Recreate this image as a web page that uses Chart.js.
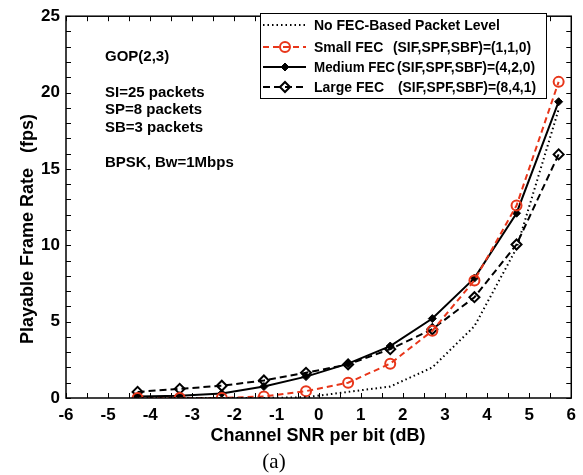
<!DOCTYPE html>
<html>
<head>
<meta charset="utf-8">
<script src="https://cdn.jsdelivr.net/npm/chart.js@4"></script>
<style>
  html, body { margin: 0; padding: 0; background: #fff; }
  canvas { display: block; }
</style>
</head>
<body>
<canvas id="fpsChart" width="583" height="475"></canvas>
<script>
// --- data ---
const snrDb = [-4.3, -3.3, -2.3, -1.3, -0.3, 0.7, 1.7, 2.7, 3.7, 4.7, 5.7];
const noFec = [0, 0, 0, 0, 0.05, 0.4, 0.75, 2.0, 4.7, 9.8, 18.9];
const smallFec = [0, 0, 0, 0.1, 0.45, 1.0, 2.25, 4.4, 7.7, 12.6, 20.7];
const mediumFec = [0.1, 0.15, 0.3, 0.75, 1.4, 2.25, 3.4, 5.2, 7.85, 12.1, 19.4];
const largeFec = [0.4, 0.6, 0.8, 1.15, 1.65, 2.2, 3.2, 4.5, 6.6, 10.05, 15.95];

const seriesNames = ['No FEC-Based Packet Level', 'Small FEC', 'Medium FEC', 'Large FEC'];
const seriesParams = ['', '(SIF,SPF,SBF)=(1,1,0)', '(SIF,SPF,SBF)=(4,2,0)', '(SIF,SPF,SBF)=(8,4,1)'];
const notes = ['GOP(2,3)', '', 'SI=25 packets', 'SP=8 packets', 'SB=3 packets', '', 'BPSK, Bw=1Mbps'];
const xTitle = 'Channel SNR per bit (dB)';
const yTitle = 'Playable Frame Rate   (fps)';
const caption = '(a)';

const toPts = ys => ys.map((y, i) => ({ x: snrDb[i], y: y }));
const sans = '"Liberation Sans", Arial, sans-serif';

// box, inward ticks, notes, titles and framed legend
const decorations = {
  id: 'decorations',
  afterDraw(chart) {
    const { ctx, chartArea: a, scales: { x, y } } = chart;
    ctx.save();
    ctx.strokeStyle = '#000';
    ctx.lineWidth = 1.5;
    ctx.strokeRect(a.left, a.top, a.right - a.left, a.bottom - a.top);

    ctx.lineWidth = 1;
    ctx.beginPath();
    for (let v = -6; v <= 6.001; v += 0.5) {
      const px = Math.round(x.getPixelForValue(v)) + 0.5;
      ctx.moveTo(px, a.bottom); ctx.lineTo(px, a.bottom - 5);
      ctx.moveTo(px, a.top); ctx.lineTo(px, a.top + 5);
    }
    for (let v = 0; v <= 25; v += 1) {
      const py = Math.round(y.getPixelForValue(v)) + 0.5;
      ctx.moveTo(a.left, py); ctx.lineTo(a.left + 5, py);
      ctx.moveTo(a.right, py); ctx.lineTo(a.right - 5, py);
    }
    ctx.stroke();

    // notes on the left
    ctx.fillStyle = '#000';
    ctx.font = 'bold 15px ' + sans;
    ctx.textBaseline = 'middle';
    ctx.textAlign = 'left';
    notes.forEach((t, i) => { if (t) ctx.fillText(t, 105, 57 + i * 17.7); });

    // axis titles
    ctx.font = 'bold 18px ' + sans;
    ctx.textAlign = 'center';
    ctx.fillText(xTitle, 318, 436);
    ctx.save();
    ctx.translate(28, 229);
    ctx.rotate(-Math.PI / 2);
    ctx.fillText(yTitle, 0, 0);
    ctx.restore();
    ctx.font = '21px "Liberation Serif", "Times New Roman", serif';
    ctx.fillText(caption, 274, 462);

    // legend box
    const lx = 260, ly = 13, lw = 286, lh = 85;
    ctx.fillStyle = '#fff';
    ctx.fillRect(lx, ly, lw, lh);
    ctx.lineWidth = 1;
    ctx.strokeStyle = '#000';
    ctx.strokeRect(lx + 0.5, ly + 0.5, lw, lh);
    const paramX = [0, 393, 397, 398];
    const rowY = [25, 47, 67, 87];
    chart.data.datasets.forEach((ds, i) => {
      const ry = rowY[i];
      ctx.strokeStyle = ds.borderColor;
      ctx.lineWidth = ds.borderWidth;
      ctx.setLineDash(ds.borderDash || []);
      ctx.beginPath();
      ctx.moveTo(lx + 3, ry); ctx.lineTo(lx + 46, ry);
      ctx.stroke();
      ctx.setLineDash([]);
      if (ds.pointStyle) {
        ctx.lineWidth = ds.pointBorderWidth;
        ctx.strokeStyle = ds.pointBorderColor;
        ctx.fillStyle = ds.pointBackgroundColor;
        Chart.helpers.drawPoint(ctx, { pointStyle: ds.pointStyle, radius: ds.pointRadius, borderWidth: ds.pointBorderWidth, rotation: 0 }, lx + 25, ry);
      }
      ctx.fillStyle = '#000';
      ctx.font = 'bold 14px ' + sans;
      ctx.textAlign = 'left';
      if (seriesParams[i]) {
        ctx.fillText(seriesNames[i], 314, ry + 1, paramX[i] - 316);
        ctx.fillText(seriesParams[i], paramX[i], ry + 1, 138);
      } else {
        ctx.fillText(seriesNames[i], 314, ry + 1);
      }
    });
    ctx.restore();
  }
};

new Chart(document.getElementById('fpsChart'), {
  type: 'line',
  data: {
    datasets: [
      {
        label: seriesNames[0], data: toPts(noFec),
        borderColor: '#000', borderWidth: 2, borderDash: [1.5, 3],
        pointRadius: 0, pointStyle: false
      },
      {
        label: seriesNames[1], data: toPts(smallFec),
        borderColor: '#e8361a', borderWidth: 2, borderDash: [6, 4],
        pointStyle: 'circle', pointRadius: 5, pointBorderWidth: 2,
        pointBorderColor: '#e8361a', pointBackgroundColor: 'rgba(255,255,255,0)'
      },
      {
        label: seriesNames[2], data: toPts(mediumFec),
        borderColor: '#000', borderWidth: 2,
        pointStyle: 'rectRot', pointRadius: 4, pointBorderWidth: 1,
        pointBorderColor: '#000', pointBackgroundColor: '#000'
      },
      {
        label: seriesNames[3], data: toPts(largeFec),
        borderColor: '#000', borderWidth: 2, borderDash: [7, 4],
        pointStyle: 'rectRot', pointRadius: 5, pointBorderWidth: 2,
        pointBorderColor: '#000', pointBackgroundColor: 'rgba(255,255,255,0)'
      }
    ]
  },
  options: {
    responsive: false,
    animation: false,
    layout: { padding: { left: 0, right: 7, top: 14, bottom: 0 } },
    plugins: { legend: { display: false }, tooltip: { enabled: false } },
    scales: {
      x: {
        type: 'linear', min: -6, max: 6,
        afterFit: s => { s.height = 77; },
        grid: { display: false, drawTicks: false },
        border: { display: false },
        ticks: { stepSize: 1, color: '#000', font: { family: sans, size: 17, weight: 'bold' }, padding: 7, maxRotation: 0 }
      },
      y: {
        min: 0, max: 25,
        afterFit: s => { s.width = 66; },
        grid: { display: false, drawTicks: false },
        border: { display: false },
        ticks: { stepSize: 5, color: '#000', font: { family: sans, size: 17, weight: 'bold' }, padding: 6 }
      }
    }
  },
  plugins: [decorations]
});
</script>
</body>
</html>
